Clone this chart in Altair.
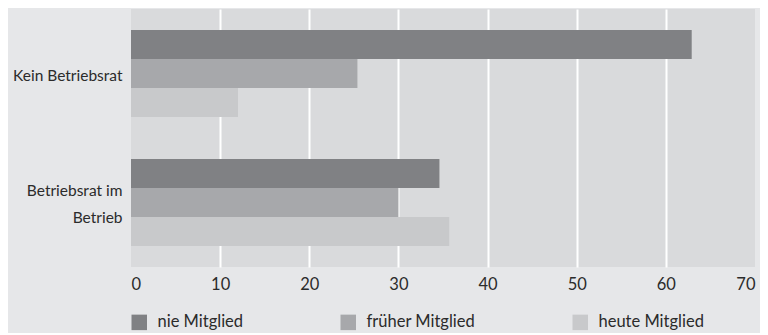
import altair as alt
import pandas as pd

categories = ["Kein Betriebsrat", "Betriebsrat im Betrieb"]
series = ["nie Mitglied", "früher Mitglied", "heute Mitglied"]
kein_betriebsrat = [62.9, 25.4, 12.0]
betriebsrat_im_betrieb = [34.6, 30.0, 35.7]
x_ticks = [0, 10, 20, 30, 40, 50, 60, 70]
colors = ["#808184", "#a7a8ab", "#c8c9cb"]

rows = []
for cat, vals in zip(categories, [kein_betriebsrat, betriebsrat_im_betrieb]):
    for s, v in zip(series, vals):
        rows.append({"Kategorie": cat, "Gruppe": s, "Wert": v})
df = pd.DataFrame(rows)

FONT = "Lato"
FS = 16.5
TXT = "#2b2b2b"

chart = alt.Chart(df).mark_bar().encode(
    x=alt.X(
        "Wert:Q",
        scale=alt.Scale(domain=[0, 70], nice=False),
        axis=alt.Axis(
            values=x_ticks,
            title=None,
            domain=False,
            ticks=False,
            labelPadding=9,
            labelFontSize=FS,
            labelFont=FONT,
            labelColor=TXT,
            grid=True,
            gridColor={
                "condition": {"test": "datum.value == 0 || datum.value == 70", "value": "transparent"},
                "value": "#ffffff",
            },
            gridWidth=2,
        ),
    ),
    y=alt.Y(
        "Kategorie:N",
        sort=categories,
        scale=alt.Scale(paddingInner=0.326, paddingOuter=0.163),
        axis=alt.Axis(
            title=None,
            domain=False,
            ticks=False,
            labelPadding=9,
            labelFontSize=15.5,
            labelFont=FONT,
            labelColor=TXT,
            labelLineHeight=27,
            labelOffset={
                "condition": {"test": "datum.value == 'Betriebsrat im Betrieb'", "value": -11.5},
                "value": 2.5,
            },
            labelExpr="datum.label == 'Betriebsrat im Betrieb' ? ['Betriebsrat im', 'Betrieb'] : datum.label",
        ),
    ),
    yOffset=alt.YOffset("Gruppe:N", sort=series, scale=alt.Scale(paddingInner=0, paddingOuter=0)),
    color=alt.Color(
        "Gruppe:N",
        sort=series,
        scale=alt.Scale(domain=series, range=colors),
        legend=alt.Legend(
            title=None,
            orient="none",
            direction="horizontal",
            legendX=0,
            legendY=305,
            symbolType="square",
            symbolSize=240,
            symbolStrokeWidth=0,
            labelOffset=10,
            labelFontSize=FS,
            labelFont=FONT,
            labelColor=TXT,
            columnPadding=96,
        ),
    ),
).properties(
    width=624,
    height=258,
    background="#e6e7e9",
    padding={"left": 123, "top": 1, "right": 5, "bottom": 66},
    autosize=alt.AutoSizeParams(type="none"),
).configure_view(
    fill="#d9dadc",
    stroke=None,
)

chart.save("out.html", embed_options={"renderer": "svg", "actions": False})
